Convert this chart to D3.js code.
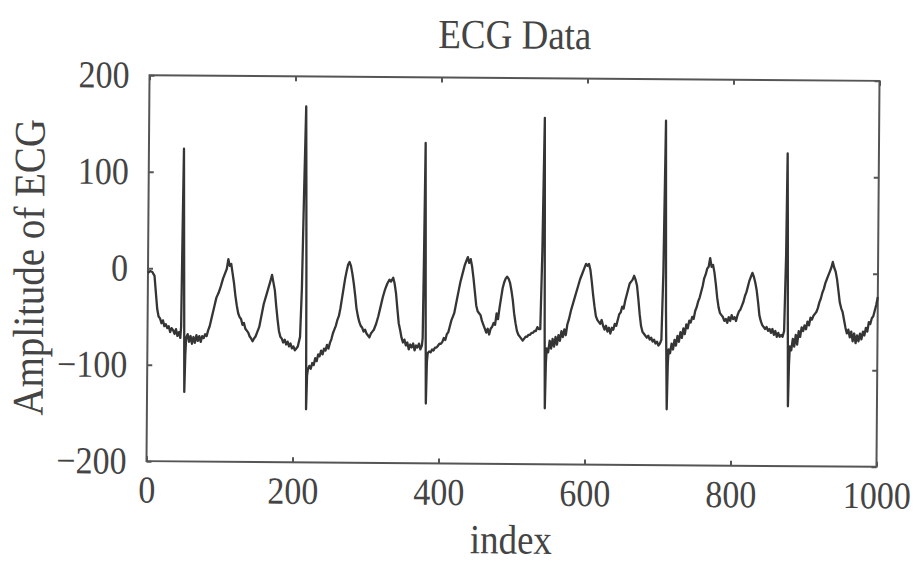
<!DOCTYPE html>
<html>
<head>
<meta charset="utf-8">
<script src="https://cdn.jsdelivr.net/npm/d3@7"></script>
<style>
  body { margin: 0; background: #fff; }
  text {
    font-family: "Liberation Serif", "Times New Roman", serif;
    fill: #444;
    transform-box: fill-box;
    transform-origin: center;
    transform: scaleY(1.12);
  }
</style>
</head>
<body>
<script>
// sample index / amplitude pairs
const ecgIndex = [
  0, 3, 6, 9, 11, 13, 15, 17, 19, 21, 23, 25, 27, 29, 31, 33, 35, 37, 39, 41, 43, 45, 46, 47, 48, 49, 50, 51, 52, 53,
  55, 57, 59, 61, 63, 65, 67, 69, 71, 73, 75, 77, 79, 81, 83, 85,
  88, 91, 94, 97, 100, 103, 106, 108, 110, 112, 114, 116, 118, 120, 122, 124, 126, 128, 130, 132, 134, 136, 138, 140,
  142, 144, 146, 148, 150, 153, 156, 159, 162, 165, 168, 170, 172, 174, 176, 178, 180, 182, 184, 186, 188, 190, 192,
  194, 196, 198, 200, 202, 204, 206, 209, 211, 213, 215, 216, 217, 218, 219, 220, 222, 224, 226, 228, 230, 232, 234,
  236, 238, 240, 242, 244, 246, 248, 250, 252, 254, 256, 258, 260, 262, 264, 266, 268, 270, 272, 274, 276, 278, 280,
  282, 284, 286, 288, 290, 292, 294, 296, 298, 300, 302, 304, 306, 308, 310, 313, 316, 319, 322, 325, 328, 331, 333,
  336, 338, 340, 342, 344, 346, 348, 350, 352, 354, 356, 358, 360, 362, 364, 366, 368, 370, 372, 374, 376, 377, 378,
  379, 380, 381, 382, 383, 384, 386, 388, 390, 392, 394, 396, 398, 400, 402, 404, 406, 408, 410, 412, 414, 416, 418,
  420, 422, 424, 426, 428, 430, 432, 434, 436, 438, 440, 442, 444, 446, 448, 450, 452, 454, 456, 458, 460, 462, 464,
  466, 468, 470, 472, 474, 476, 478, 480, 482, 484, 486, 488, 490, 492, 494, 496, 498, 500, 502, 504, 506, 508, 510,
  512, 514, 516, 518, 520, 522, 524, 526, 528, 530, 532, 534, 536, 538, 540, 542, 543, 544, 545, 546, 547, 549, 551,
  553, 555, 557, 559, 561, 563, 565, 567, 569, 571, 573, 575, 577, 580, 583, 586, 589, 592, 595, 598, 600, 602, 604,
  606, 608, 610, 612, 614, 616, 618, 620, 622, 624, 626, 628, 630, 632, 634, 636, 638, 640, 642, 644, 646, 648, 650,
  652, 654, 656, 658, 660, 662, 664, 666, 668, 670, 672, 674, 676, 678, 680, 682, 684, 686, 688, 690, 692, 694, 696,
  698, 700, 702, 704, 706, 708, 709, 710, 712, 713, 714, 716, 718, 720, 722, 724, 726, 728, 730, 732, 734, 736, 738,
  740, 742, 744, 746, 748, 750, 752, 754, 756, 758, 760, 762, 764, 766, 768, 770, 772, 774, 776, 778, 780, 782, 784,
  786, 788, 790, 792, 794, 796, 798, 800, 802, 804, 806, 808, 810, 812, 814, 816, 818, 820, 822, 824, 826, 828, 830,
  832, 834, 836, 838, 840, 842, 844, 846, 848, 850, 852, 854, 856, 858, 860, 862, 864, 866, 868, 870, 872, 874, 875,
  876, 877, 878, 879, 880, 882, 884, 886, 888, 890, 892, 894, 896, 898, 900, 902, 904, 906, 908, 910, 912, 914, 916,
  918, 920, 922, 924, 926, 928, 930, 932, 934, 936, 938, 940, 942, 944, 946, 948, 950, 952, 954, 956, 958, 960, 962,
  964, 966, 968, 970, 972, 974, 976, 978, 980, 982, 984, 986, 988, 990, 992, 994, 996, 998, 1000
];
const ecgAmplitude = [
  -5, -3, -4, -8, -25, -42, -50, -52, -57, -54, -60, -58, -62, -60, -66, -62, -64, -68, -63, -70, -66, -72, -60, 40, 124, 40, -40, -128, -90, -72,
  -68, -76, -70, -78, -71, -77, -69, -75, -70, -76, -70, -72, -68, -70, -64, -60,
  -50, -40, -30, -25, -18, -10, -4, 0, 10, 3, 5, -5, -15, -28, -38, -46, -50, -52, -58, -56, -62, -64, -66, -70,
  -72, -75, -72, -70, -66, -60, -48, -36, -28, -20, -12, -6, -14, -22, -38, -52, -64, -70, -72, -76, -73, -78, -75,
  -80, -77, -82, -80, -84, -82, -80, -70, -20, 80, 169, 90, 0, -145, -110, -104, -100, -103, -97, -99, -92, -95, -88,
  -90, -84, -88, -82, -84, -78, -82, -76, -72, -66, -62, -58, -52, -48, -40, -30, -20, -10, -2, 5, 8, 4, -4,
  -14, -26, -40, -48, -54, -58, -60, -64, -62, -66, -68, -70, -66, -64, -62, -56, -48, -38, -28, -20, -14, -10, -12,
  -8, -14, -24, -40, -55, -62, -70, -75, -72, -78, -75, -82, -77, -80, -76, -83, -78, -80, -76, -82, -78, -70, 20,
  132, 40, -60, -138, -95, -86, -84, -85, -82, -83, -80, -80, -78, -76, -76, -74, -70, -72, -66, -64, -58, -52, -48,
  -44, -36, -28, -20, -12, -6, 0, 6, 10, 14, 8, 12, 4, -8, -22, -36, -42, -44, -46, -52, -56, -60, -64,
  -60, -66, -60, -58, -54, -56, -44, -50, -38, -28, -18, -12, -8, -6, -8, -12, -20, -30, -44, -54, -62, -66, -68,
  -70, -72, -70, -68, -68, -66, -66, -64, -64, -62, -62, -58, -60, -60, 20, 159, 60, -60, -142, -95, -80, -84, -72,
  -80, -70, -78, -68, -76, -66, -72, -62, -68, -60, -66, -55, -50, -40, -32, -24, -16, -8, -2, 4, 8, 6, 8,
  2, -10, -24, -36, -46, -50, -52, -54, -50, -56, -60, -56, -62, -58, -64, -58, -60, -54, -56, -50, -44, -42, -36,
  -38, -30, -24, -18, -12, -10, -8, -4, -8, -14, -28, -44, -56, -62, -64, -66, -68, -66, -70, -68, -72, -70, -74,
  -72, -76, -74, -70, 0, 157, 60, -40, -142, -95, -80, -84, -74, -80, -70, -76, -66, -72, -62, -68, -58, -64, -54,
  -58, -50, -52, -46, -48, -40, -36, -30, -26, -20, -14, -6, -2, 4, 6, 15, 6, 8, 0, -12, -26, -36, -42,
  -44, -46, -50, -48, -52, -46, -50, -44, -48, -46, -50, -44, -40, -38, -34, -30, -24, -20, -14, -8, -4, 0, -4,
  -10, -18, -30, -44, -50, -54, -56, -58, -56, -60, -58, -62, -58, -64, -60, -66, -62, -66, -64, -66, -60, 20, 124,
  50, -50, -138, -95, -76, -80, -68, -76, -64, -74, -60, -66, -56, -60, -54, -58, -50, -54, -46, -48, -44, -42, -40,
  -36, -30, -26, -20, -16, -10, -6, -2, 2, 6, 12, 6, 2, -6, -18, -30, -36, -40, -48, -56, -62, -58, -66,
  -60, -70, -62, -72, -64, -70, -62, -68, -60, -64, -56, -60, -50, -52, -46, -44, -38, -32, -24
];
const xTicks = [0, 200, 400, 600, 800, 1000];
const yTicks = [-200, -100, 0, 100, 200];

const margin = { top: 78, right: 44, bottom: 107, left: 148 };
const width = 922 - margin.left - margin.right;
const height = 571 - margin.top - margin.bottom;

const data = ecgIndex.map((d, i) => ({ index: d, value: ecgAmplitude[i] }));

const svg = d3.select('body')
    .append('svg')
    .attr('width', 922)
    .attr('height', 571);

// the scan is tilted a little clockwise
const g = svg.append('g')
    .attr('transform', `rotate(0.45, ${margin.left + width / 2}, ${margin.top + height / 2}) translate(${margin.left}, ${margin.top})`);

const x = d3.scaleLinear().domain([0, 1000]).range([0, width]);
const y = d3.scaleLinear().domain([-200, 200]).range([height, 0]);

// axes with inward ticks on all four sides
g.append('g')
    .attr('class', 'x-axis')
    .attr('transform', `translate(0, ${height})`)
    .call(d3.axisBottom(x).tickValues(xTicks).tickSize(-5).tickPadding(16).tickFormat(d3.format('d')));

g.append('g')
    .attr('class', 'y-axis')
    .call(d3.axisLeft(y).tickValues(yTicks).tickSize(-5).tickPadding(20));

g.append('g')
    .call(d3.axisTop(x).tickValues(xTicks).tickSize(-5).tickFormat(''));

g.append('g')
    .attr('transform', `translate(${width}, 0)`)
    .call(d3.axisRight(y).tickValues(yTicks).tickSize(-5).tickFormat(''));

g.selectAll('.domain').remove();
g.selectAll('.tick line').attr('stroke', '#555').attr('stroke-width', 2);
g.selectAll('.tick text')
    .style('font-family', '"Liberation Serif", "Times New Roman", serif')
    .style('font-size', '34px')
    .attr('fill', '#444');

// box
g.append('rect')
    .attr('x', 0)
    .attr('y', 0)
    .attr('width', width)
    .attr('height', height)
    .attr('fill', 'none')
    .attr('stroke', '#555')
    .attr('stroke-width', 2);

// trace
const line = d3.line()
    .x(d => x(d.index))
    .y(d => y(d.value));

g.append('path')
    .datum(data)
    .attr('fill', 'none')
    .attr('stroke', '#353535')
    .attr('stroke-width', 2.3)
    .attr('stroke-linejoin', 'round')
    .attr('d', line);

// titles
g.append('text')
    .attr('x', width / 2)
    .attr('y', -31)
    .attr('text-anchor', 'middle')
    .style('font-size', '37px')
    .text('ECG Data');

g.append('text')
    .attr('x', width / 2)
    .attr('y', height + 88)
    .attr('text-anchor', 'middle')
    .style('font-size', '37px')
    .text('index');

// rotation lives on a wrapper so the css stretch on text does not drop it
g.append('g')
    .attr('transform', 'rotate(-90)')
    .append('text')
    .attr('x', -height / 2)
    .attr('y', -106)
    .attr('text-anchor', 'middle')
    .style('font-size', '39px')
    .text('Amplitude of ECG');
</script>
</body>
</html>
